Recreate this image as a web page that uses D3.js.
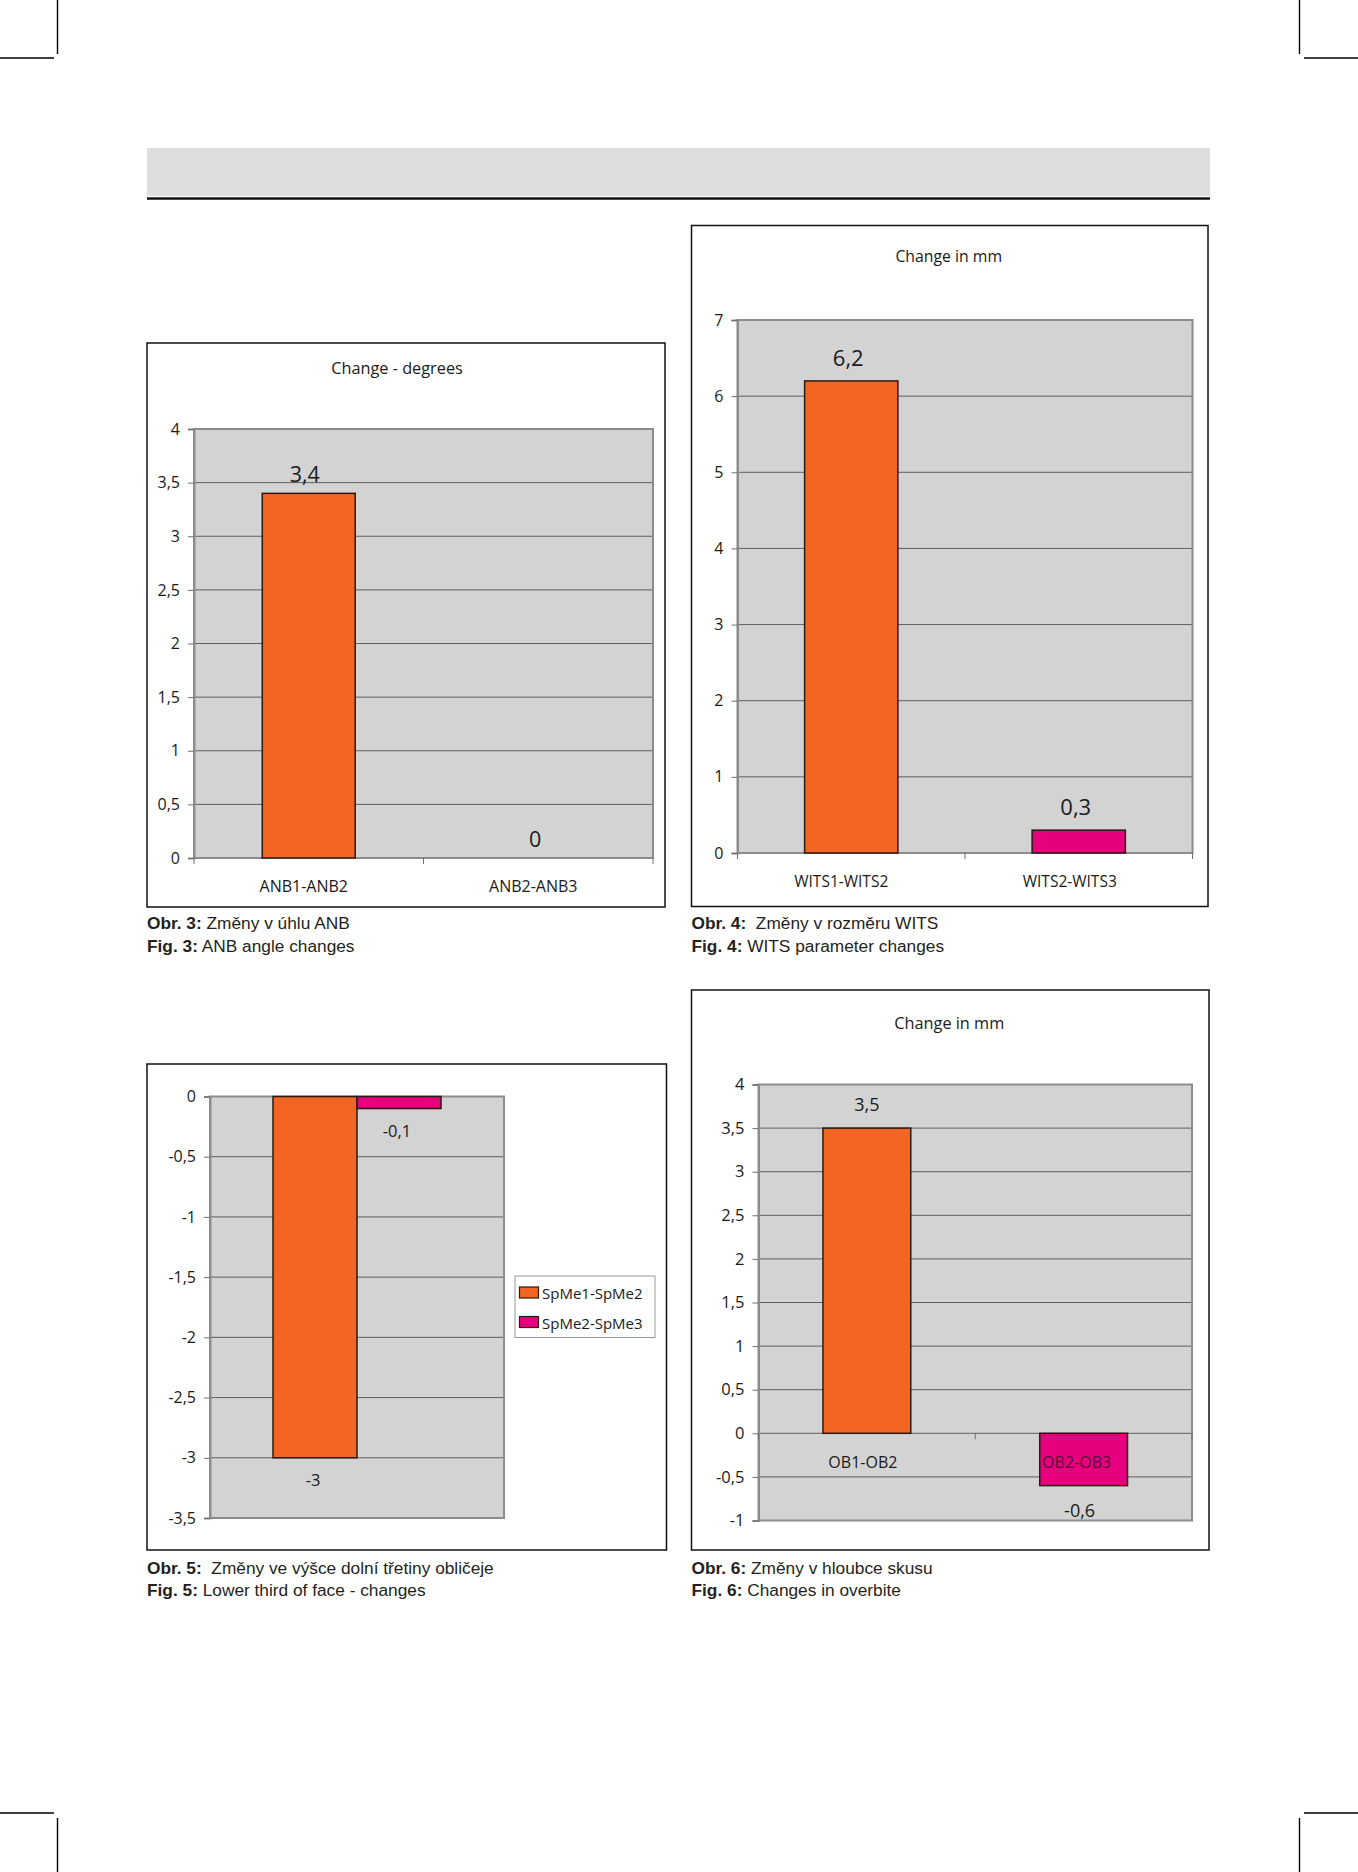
<!DOCTYPE html>
<html><head><meta charset="utf-8">
<script src="https://cdn.jsdelivr.net/npm/d3@7"></script>
<style>body{margin:0;background:#fff;} svg{display:block}</style>
</head><body>
<svg id="page" width="1358" height="1872"></svg>
<script>
// ---- data ----
const anbCategories = ["ANB1-ANB2", "ANB2-ANB3"];
const anbValues = [3.4, 0];
const anbTicks = [0, 0.5, 1, 1.5, 2, 2.5, 3, 3.5, 4];

const witsCategories = ["WITS1-WITS2", "WITS2-WITS3"];
const witsValues = [6.2, 0.3];
const witsTicks = [0, 1, 2, 3, 4, 5, 6, 7];

const spmeSeries = ["SpMe1-SpMe2", "SpMe2-SpMe3"];
const spmeValues = [-3, -0.1];
const spmeTicks = [0, -0.5, -1, -1.5, -2, -2.5, -3, -3.5];

const obCategories = ["OB1-OB2", "OB2-OB3"];
const obValues = [3.5, -0.6];
const obTicks = [-1, -0.5, 0, 0.5, 1, 1.5, 2, 2.5, 3, 3.5, 4];

const chartTitles = ["Change - degrees", "Change in mm", "Change in mm"];
const captionBold = [["Obr. 3:", "Fig. 3:"], ["Obr. 4:", "Fig. 4:"], ["Obr. 5:", "Fig. 5:"], ["Obr. 6:", "Fig. 6:"]];
const captionText = [
  [" Změny v úhlu ANB", " ANB angle changes"],
  ["  Změny v rozměru WITS", " WITS parameter changes"],
  ["  Změny ve výšce dolní třetiny obličeje", " Lower third of face - changes"],
  [" Změny v hloubce skusu", " Changes in overbite"]
];

// ---- style ----
const barColors = ["#f26522", "#e6007e"];
const plotFill = "#d3d3d3";
const gridColor = "#5e5e5e";
const borderColor = "#8c8c8c";
const chartFont = "'Open Sans', 'DejaVu Sans', sans-serif";
const capFont = "'Liberation Sans', Arial, sans-serif";
const fmt = d => String(d).replace(".", ",");

const svg = d3.select("#page");

// crop marks
const marks = [
  [57.5, 0, 57.5, 54], [0, 58, 54, 58],
  [1299.5, 0, 1299.5, 54], [1304, 58, 1358, 58],
  [0, 1813, 54, 1813], [57.5, 1818, 57.5, 1872],
  [1304, 1813, 1358, 1813], [1299.5, 1818, 1299.5, 1872]
];
svg.selectAll("line.mark").data(marks).enter().append("line")
  .attr("x1", d => d[0]).attr("y1", d => d[1]).attr("x2", d => d[2]).attr("y2", d => d[3])
  .attr("stroke", "#000").attr("stroke-width", 1.4);

// header band
svg.append("rect").attr("x", 147).attr("y", 148).attr("width", 1063).attr("height", 48).attr("fill", "#dedede");
svg.append("line").attr("x1", 147).attr("x2", 1210).attr("y1", 198.5).attr("y2", 198.5)
  .attr("stroke", "#111").attr("stroke-width", 2.5);

function frameAndCaption(o, idx) {
  svg.append("rect").attr("x", o.frame[0]).attr("y", o.frame[1])
    .attr("width", o.frame[2] - o.frame[0]).attr("height", o.frame[3] - o.frame[1])
    .attr("fill", "#fff").attr("stroke", "#111").attr("stroke-width", 1.5);
  [0, 1].forEach(i => {
    const t = svg.append("text").attr("x", o.frame[0]).attr("y", o.capY[i])
      .attr("dominant-baseline", "central").attr("font-family", capFont)
      .attr("font-size", 17.3).attr("fill", "#231f20").style("white-space", "pre");
    t.append("tspan").attr("font-weight", "bold").text(captionBold[idx][i]);
    t.append("tspan").text(captionText[idx][i]);
  });
}

function plotBase(o, y) {
  const [px0, py0, px1, py1] = o.plot;
  const g = svg.append("g");
  g.append("rect").attr("x", px0).attr("y", py0).attr("width", px1 - px0).attr("height", py1 - py0).attr("fill", plotFill);
  g.selectAll("line.grid").data(o.ticks).enter().append("line")
    .attr("x1", px0).attr("x2", px1).attr("y1", d => y(d)).attr("y2", d => y(d))
    .attr("stroke", gridColor).attr("stroke-width", 1);
  g.append("rect").attr("x", px0).attr("y", py0).attr("width", px1 - px0).attr("height", py1 - py0)
    .attr("fill", "none").attr("stroke", borderColor).attr("stroke-width", 2);
  const ax = g.append("g").attr("transform", `translate(${px0},0)`)
    .call(d3.axisLeft(y).tickValues(o.ticks).tickSize(6).tickPadding(8).tickFormat(fmt));
  ax.select(".domain").attr("stroke", borderColor).attr("stroke-width", 2);
  ax.selectAll(".tick line").attr("stroke", "#6e6e6e");
  ax.selectAll(".tick text").attr("font-family", chartFont).attr("font-size", o.tickSize).attr("fill", "#1a1a1a");
  return g;
}

function drawCategoryChart(o, idx) {
  frameAndCaption(o, idx);
  const [px0, py0, px1, py1] = o.plot;
  if (o.title) {
    svg.append("text").attr("x", (o.frame[0] + o.frame[2]) / 2 + o.titleDx).attr("y", o.titleY)
      .attr("text-anchor", "middle").attr("dominant-baseline", "central")
      .attr("font-family", chartFont).attr("font-size", o.titleSize).attr("fill", "#1a1a1a").text(o.title);
  }
  const y = d3.scaleLinear().domain(o.domain).range([py1, py0]);
  const x = d3.scaleBand().domain(o.categories).range([px0, px1]);
  const g = plotBase(o, y);
  const y0 = y(0);
  // category boundary ticks
  const bounds = o.categories.map(c => x(c)).concat([px1]);
  g.selectAll("line.xt").data(bounds).enter().append("line")
    .attr("x1", d => d).attr("x2", d => d).attr("y1", y0).attr("y2", y0 + 6)
    .attr("stroke", "#6e6e6e").attr("stroke-width", 1);
  const bw = x.bandwidth() * o.barFrac;
  const data = o.categories.map((c, i) => ({ c, v: o.values[i], i }));
  g.selectAll("rect.bar").data(data.filter(d => d.v !== 0)).enter().append("rect")
    .attr("x", d => x(d.c) + (x.bandwidth() - bw) / 2)
    .attr("y", d => Math.min(y(d.v), y0))
    .attr("width", bw).attr("height", d => Math.abs(y(d.v) - y0))
    .attr("fill", d => barColors[d.i]).attr("stroke", "#2b1a10").attr("stroke-width", 1.5);
  // category labels
  g.selectAll("text.cat").data(data).enter().append("text")
    .attr("x", d => x(d.c) + x.bandwidth() / 2 + o.catDx[d.i]).attr("y", y0 + o.catGap)
    .attr("text-anchor", "middle").attr("dominant-baseline", "central")
    .attr("font-family", chartFont).attr("font-size", o.catSize)
    .attr("fill", d => (d.v < 0 ? "#5a0a35" : "#1a1a1a")).text(d => d.c);
  // value labels
  g.selectAll("text.val").data(data).enter().append("text")
    .attr("x", d => x(d.c) + x.bandwidth() / 2 + o.valDx[d.i])
    .attr("y", d => d.v < 0 ? y(d.v) + o.valGap : y(d.v) - o.valGap)
    .attr("text-anchor", "middle").attr("dominant-baseline", "central")
    .attr("font-family", chartFont).attr("font-size", o.valSize).attr("fill", "#1a1a1a").text(d => fmt(d.v));
}

// Chart 3 (ANB)
drawCategoryChart({
  frame: [147, 343, 665, 907], title: chartTitles[0], titleY: 367.5, titleSize: 16.3, titleDx: -9,
  plot: [194, 429, 653, 858], domain: [0, 4], ticks: anbTicks, tickSize: 16,
  categories: anbCategories, values: anbValues, barFrac: 0.405,
  valSize: 21.5, valGap: 20, valDx: [-4, -3], catSize: 16, catGap: 28, catDx: [-5, -5],
  capY: [923, 945.5]
}, 0);

// Chart 4 (WITS)
drawCategoryChart({
  frame: [691.5, 225.5, 1208, 906.5], title: chartTitles[1], titleY: 256, titleSize: 15.8, titleDx: -1,
  plot: [737.5, 320, 1192.5, 853], domain: [0, 7], ticks: witsTicks, tickSize: 16,
  categories: witsCategories, values: witsValues, barFrac: 0.41,
  valSize: 22, valGap: 24, valDx: [-3, -3], catSize: 15.5, catGap: 28, catDx: [-10, -9],
  capY: [923, 945.5]
}, 1);

// Chart 6 (OB)
drawCategoryChart({
  frame: [691.5, 990, 1209, 1550], title: chartTitles[2], titleY: 1022.5, titleSize: 16.3, titleDx: -1,
  plot: [758.5, 1084.5, 1192, 1520.5], domain: [-1, 4], ticks: obTicks, tickSize: 16.5,
  categories: obCategories, values: obValues, barFrac: 0.405,
  valSize: 18, valGap: 24, valDx: [0, -4], catSize: 16, catGap: 29, catDx: [-4, -7],
  capY: [1568, 1590]
}, 3);

// Chart 5 (SpMe) – one group, two series, legend
(function () {
  const o = {
    frame: [147, 1064, 666.5, 1550], plot: [210, 1096.5, 504, 1518],
    domain: [-3.5, 0], ticks: spmeTicks, tickSize: 16, capY: [1568, 1590]
  };
  frameAndCaption(o, 2);
  const [px0, py0, px1, py1] = o.plot;
  const y = d3.scaleLinear().domain(o.domain).range([py1, py0]);
  const g = plotBase(o, y);
  const outer = d3.scaleBand().domain(["group"]).range([px0, px1]).paddingOuter(0.375).paddingInner(0);
  const inner = d3.scaleBand().domain(spmeSeries).range([0, outer.bandwidth()]);
  const data = spmeSeries.map((s, i) => ({ s, v: spmeValues[i], i }));
  const y0 = y(0);
  g.selectAll("rect.bar").data(data).enter().append("rect")
    .attr("x", d => outer("group") + inner(d.s)).attr("y", y0)
    .attr("width", inner.bandwidth()).attr("height", d => y(d.v) - y0)
    .attr("fill", d => barColors[d.i]).attr("stroke", "#2b1a10").attr("stroke-width", 1.5);
  g.selectAll("text.val").data(data).enter().append("text")
    .attr("x", d => outer("group") + inner(d.s) + inner.bandwidth() / 2 - 2)
    .attr("y", d => y(d.v) + 21.5)
    .attr("text-anchor", "middle").attr("dominant-baseline", "central")
    .attr("font-family", chartFont).attr("font-size", 16.5).attr("fill", "#1a1a1a").text(d => fmt(d.v));
  // legend
  const lg = svg.append("g");
  lg.append("rect").attr("x", 515).attr("y", 1276).attr("width", 140).attr("height", 61.5)
    .attr("fill", "#fff").attr("stroke", "#9a9a9a").attr("stroke-width", 1);
  const items = lg.selectAll("g.item").data(data).enter().append("g")
    .attr("transform", d => `translate(519.5,${1292.5 + d.i * 29.5})`);
  items.append("rect").attr("x", 0).attr("y", -5.5).attr("width", 19).attr("height", 11)
    .attr("fill", d => barColors[d.i]).attr("stroke", "#2b1a10").attr("stroke-width", 1.2);
  items.append("text").attr("x", 22.5).attr("y", 0.5).attr("dominant-baseline", "central")
    .attr("font-family", chartFont).attr("font-size", 15).attr("fill", "#1a1a1a").text(d => d.s);
})();
</script>
</body></html>
